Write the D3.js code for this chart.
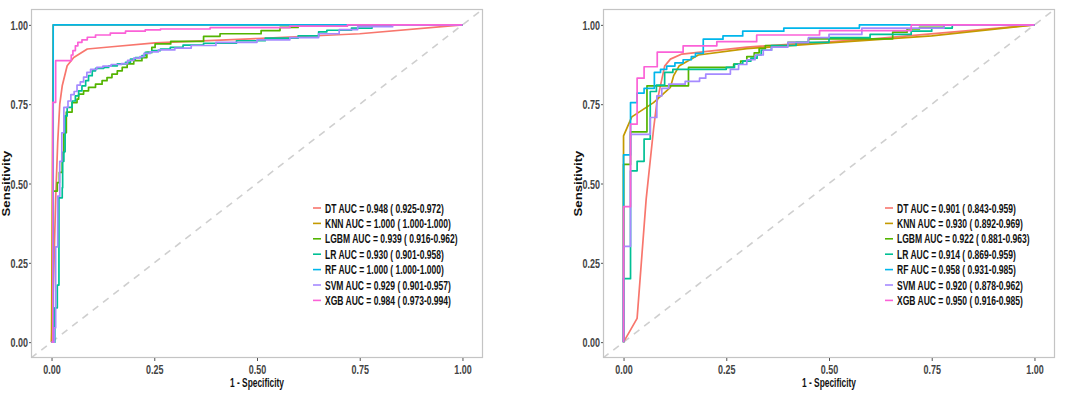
<!DOCTYPE html>
<html><head><meta charset="utf-8">
<script src="https://cdn.jsdelivr.net/npm/d3@7"></script>
<style>
html,body{margin:0;padding:0;background:#fff;}
svg{display:block;}
text{font-family:"Liberation Sans",Arial,sans-serif;font-weight:bold;}
</style></head>
<body>
<svg id="chart" width="1080" height="394"></svg>
<script>
// ---------- data ----------
const models = ["DT", "KNN", "LGBM", "LR", "RF", "SVM", "XGB"];
const colors = ["#F8766D", "#C49A00", "#53B400", "#00C094", "#00B6EB", "#A58AFF", "#FB61D7"];
const stepped = [false, false, true, true, true, true, true];
const axisTicks = [0, 0.25, 0.5, 0.75, 1];
const tickLabels = ["0.00", "0.25", "0.50", "0.75", "1.00"];

const trainLabels = [
  "DT AUC = 0.948 ( 0.925-0.972)",
  "KNN AUC = 1.000 ( 1.000-1.000)",
  "LGBM AUC = 0.939 ( 0.916-0.962)",
  "LR AUC = 0.930 ( 0.901-0.958)",
  "RF AUC = 1.000 ( 1.000-1.000)",
  "SVM AUC = 0.929 ( 0.901-0.957)",
  "XGB AUC = 0.984 ( 0.973-0.994)"
];
const testLabels = [
  "DT AUC = 0.901 ( 0.843-0.959)",
  "KNN AUC = 0.930 ( 0.892-0.969)",
  "LGBM AUC = 0.922 ( 0.881-0.963)",
  "LR AUC = 0.914 ( 0.869-0.959)",
  "RF AUC = 0.958 ( 0.931-0.985)",
  "SVM AUC = 0.920 ( 0.878-0.962)",
  "XGB AUC = 0.950 ( 0.916-0.985)"
];

// [1 - specificity, sensitivity] vertices (stepped series: at x, rise to y)
const trainDT = [[0,0],[0.005,0.2],[0.01,0.45],[0.015,0.63],[0.02,0.75],[0.026,0.808],[0.038,0.871],[0.054,0.897],[0.087,0.924],[0.147,0.931],[0.252,0.943],[0.5,0.957],[0.75,0.972],[1,1]];
const trainKNN = [[0,0],[0.004,1],[1,1]];
const trainLGBM = [[0,0],[0.003,0.476],[0.014,0.503],[0.019,0.535],[0.026,0.598],[0.03,0.66],[0.036,0.725],[0.05,0.755],[0.062,0.766],[0.066,0.782],[0.078,0.792],[0.09,0.803],[0.107,0.813],[0.123,0.824],[0.135,0.834],[0.147,0.845],[0.16,0.855],[0.172,0.866],[0.184,0.877],[0.2,0.887],[0.22,0.897],[0.232,0.913],[0.244,0.929],[0.252,0.94],[0.29,0.948],[0.37,0.964],[0.41,0.972],[0.51,0.982],[0.556,0.992],[0.6,1],[1,1]];
const trainLR = [[0,0],[0.008,0.108],[0.014,0.18],[0.018,0.455],[0.026,0.487],[0.027,0.57],[0.03,0.6],[0.033,0.713],[0.038,0.74],[0.05,0.76],[0.058,0.776],[0.066,0.792],[0.074,0.808],[0.083,0.824],[0.09,0.84],[0.099,0.855],[0.107,0.863],[0.127,0.866],[0.139,0.871],[0.16,0.877],[0.18,0.882],[0.192,0.892],[0.204,0.897],[0.22,0.903],[0.228,0.913],[0.244,0.919],[0.265,0.924],[0.289,0.929],[0.32,0.936],[0.37,0.942],[0.45,0.95],[0.52,0.958],[0.6,0.965],[0.65,0.978],[0.67,0.983],[0.73,0.99],[0.78,1],[1,1]];
const trainRF = [[0,0],[0.004,1],[1,1]];
const trainSVM = [[0,0],[0.007,0.045],[0.01,0.3],[0.015,0.46],[0.02,0.57],[0.025,0.66],[0.03,0.74],[0.04,0.76],[0.047,0.78],[0.055,0.79],[0.062,0.81],[0.07,0.82],[0.078,0.835],[0.086,0.85],[0.095,0.86],[0.11,0.866],[0.125,0.87],[0.145,0.875],[0.17,0.878],[0.185,0.888],[0.2,0.895],[0.215,0.9],[0.225,0.91],[0.24,0.915],[0.26,0.921],[0.3,0.927],[0.34,0.935],[0.4,0.945],[0.5,0.953],[0.58,0.96],[0.65,0.972],[0.7,0.985],[0.745,0.994],[0.83,1],[1,1]];
const trainXGB = [[0,0],[0.003,0.756],[0.01,0.887],[0.048,0.905],[0.052,0.919],[0.058,0.934],[0.064,0.945],[0.074,0.953],[0.087,0.961],[0.107,0.968],[0.143,0.974],[0.18,0.98],[0.228,0.984],[0.265,0.987],[0.386,0.991],[0.58,0.996],[0.72,1],[1,1]];

const testDT = [[0,0],[0.033,0.075],[0.055,0.45],[0.073,0.671],[0.081,0.755],[0.1,0.87],[0.114,0.892],[0.142,0.908],[0.3,0.93],[0.6,0.955],[1,1]];
const testKNN = [[0,0],[0,0.65],[0.02,0.71],[0.073,0.755],[0.114,0.803],[0.122,0.84],[0.135,0.87],[0.182,0.905],[0.3,0.925],[0.5,0.943],[0.75,0.965],[1,1]];
const testLGBM = [[0,0],[0,0.56],[0.017,0.663],[0.057,0.808],[0.158,0.866],[0.268,0.876],[0.285,0.886],[0.3,0.9],[0.318,0.912],[0.33,0.925],[0.345,0.935],[0.4,0.945],[0.45,0.956],[0.655,0.977],[0.69,0.987],[0.72,0.992],[0.78,1],[1,1]];
const testLR = [[0,0],[0,0.2],[0.017,0.54],[0.033,0.57],[0.05,0.64],[0.065,0.79],[0.08,0.81],[0.1,0.85],[0.12,0.86],[0.25,0.866],[0.27,0.876],[0.29,0.886],[0.31,0.895],[0.325,0.905],[0.335,0.92],[0.36,0.935],[0.42,0.945],[0.5,0.96],[0.6,0.97],[0.7,0.98],[0.75,0.99],[0.8,1],[1,1]];
const testRF = [[0,0],[0,0.59],[0.017,0.755],[0.033,0.785],[0.05,0.8],[0.075,0.85],[0.09,0.86],[0.105,0.87],[0.125,0.88],[0.145,0.89],[0.165,0.9],[0.175,0.91],[0.194,0.955],[0.242,0.965],[0.29,0.98],[0.39,0.99],[0.574,1],[1,1]];
const testSVM = [[0,0],[0,0.302],[0.017,0.655],[0.065,0.708],[0.081,0.776],[0.093,0.8],[0.11,0.813],[0.15,0.822],[0.185,0.832],[0.2,0.845],[0.26,0.86],[0.28,0.875],[0.3,0.89],[0.32,0.905],[0.34,0.92],[0.36,0.93],[0.4,0.945],[0.45,0.96],[0.5,0.97],[0.58,0.99],[0.78,1],[1,1]];
const testXGB = [[0,0],[0,0.427],[0.017,0.687],[0.033,0.832],[0.05,0.868],[0.082,0.914],[0.145,0.934],[0.227,0.947],[0.324,0.968],[0.477,0.982],[0.7,1],[1,1]];

const trainCurves = [trainDT, trainKNN, trainLGBM, trainLR, trainRF, trainSVM, trainXGB];
const testCurves = [testDT, testKNN, testLGBM, testLR, testRF, testSVM, testXGB];

// ---------- drawing ----------
const svg = d3.select("#chart");

// measure a sample string and return the horizontal squeeze needed to reach a target width
function fitScale(sample, size, target) {
  const t = svg.append("text").style("font-size", size + "px").text(sample);
  const w = t.node().getComputedTextLength();
  t.remove();
  return w > 0 ? target / w : 0.75;
}
const legendSize = 12.5, tickSize = 12.5, xTitleSize = 13, yTitleSize = 13;
const SQ_LEG = fitScale("DT AUC = 0.948 ( 0.925-0.972)", legendSize, 119);
const SQ_TICK = fitScale("0.00", tickSize, 17.5);
const SQ_XT = fitScale("1 - Specificity", xTitleSize, 54);
const LEN_YT = fitScale("Sensitivity", yTitleSize, 66);

function panel(opts) {
  const {left, right, top, bottom, curves, labels, titleX, legendX} = opts;
  const x = d3.scaleLinear().domain([-0.05, 1.05]).range([left, right]);
  const y = d3.scaleLinear().domain([-0.05, 1.05]).range([bottom, top]);
  const g = svg.append("g");

  const clipId = "clip" + Math.round(left);
  svg.append("clipPath").attr("id", clipId).append("rect")
    .attr("x", left).attr("y", top).attr("width", right - left).attr("height", bottom - top);

  // diagonal reference
  g.append("line").attr("clip-path", `url(#${clipId})`)
    .attr("x1", x(-0.05)).attr("y1", y(-0.05)).attr("x2", x(1.05)).attr("y2", y(1.05))
    .attr("stroke", "#cfcfcf").attr("stroke-width", 1.6).attr("stroke-dasharray", "7,6");

  const plot = g.append("g").attr("clip-path", `url(#${clipId})`);
  curves.forEach((pts, i) => {
    const line = d3.line().x(d => x(d[0])).y(d => y(d[1]))
      .curve(stepped[i] ? d3.curveStepAfter : d3.curveLinear);
    plot.append("path").datum(pts).attr("d", line)
      .attr("fill", "none").attr("stroke", colors[i]).attr("stroke-width", 1.7)
      .attr("stroke-linejoin", "round");
  });

  // border
  g.append("rect").attr("x", left + 0.5).attr("y", top + 0.5)
    .attr("width", right - left - 1).attr("height", bottom - top - 1)
    .attr("fill", "none").attr("stroke", "#c4c4c4").attr("stroke-width", 1.2);

  // axes
  const xAxis = d3.axisBottom(x).tickValues(axisTicks).tickFormat((d, i) => tickLabels[i]).tickSize(3).tickPadding(2);
  const yAxis = d3.axisLeft(y).tickValues(axisTicks).tickFormat((d, i) => tickLabels[i]).tickSize(2).tickPadding(2);
  const gx = g.append("g").attr("transform", `translate(0,${bottom})`).call(xAxis);
  const gy = g.append("g").attr("transform", `translate(${left},0)`).call(yAxis);
  [gx, gy].forEach(a => {
    a.select(".domain").remove();
    a.selectAll(".tick line").attr("stroke", "#555");
    a.selectAll(".tick text").attr("fill", "#444").style("font-size", tickSize + "px")
      .style("font-family", "Liberation Sans, Arial, sans-serif").style("font-weight", "bold");
  });
  gx.selectAll(".tick text").attr("y", 0).attr("dy", 0)
    .attr("transform", `translate(0,15.5) scale(${SQ_TICK},1)`);
  gy.selectAll(".tick text").attr("x", 0).attr("dy", 0)
    .attr("transform", `translate(-3,4.5) scale(${SQ_TICK},1)`);

  // titles
  g.append("text").attr("text-anchor", "middle")
    .attr("transform", `translate(${(left + right) / 2},386.5) scale(${SQ_XT},1)`)
    .style("font-size", xTitleSize + "px").attr("fill", "#111").text("1 - Specificity");
  g.append("text").attr("text-anchor", "middle")
    .attr("transform", `translate(${titleX},${(top + bottom) / 2}) rotate(-90) scale(${LEN_YT},0.8)`)
    .style("font-size", yTitleSize + "px").attr("fill", "#111").text("Sensitivity");

  // legend
  const rowY = [208, 223.4, 238.8, 254.2, 269.6, 285, 300.4];
  const lg = g.append("g");
  labels.forEach((lab, i) => {
    lg.append("line").attr("x1", legendX).attr("x2", legendX + 8)
      .attr("y1", rowY[i]).attr("y2", rowY[i])
      .attr("stroke", colors[i]).attr("stroke-width", 1.6);
    lg.append("text")
      .attr("transform", `translate(${legendX + 12},${rowY[i] + 4.5}) scale(${SQ_LEG},1)`)
      .style("font-size", legendSize + "px").attr("fill", "#111").text(lab);
  });
}

panel({left: 31, right: 483, top: 9, bottom: 358, curves: trainCurves, labels: trainLabels, titleX: 10, legendX: 313});
panel({left: 603, right: 1055, top: 9, bottom: 358, curves: testCurves, labels: testLabels, titleX: 582, legendX: 885});
</script>
</body></html>
